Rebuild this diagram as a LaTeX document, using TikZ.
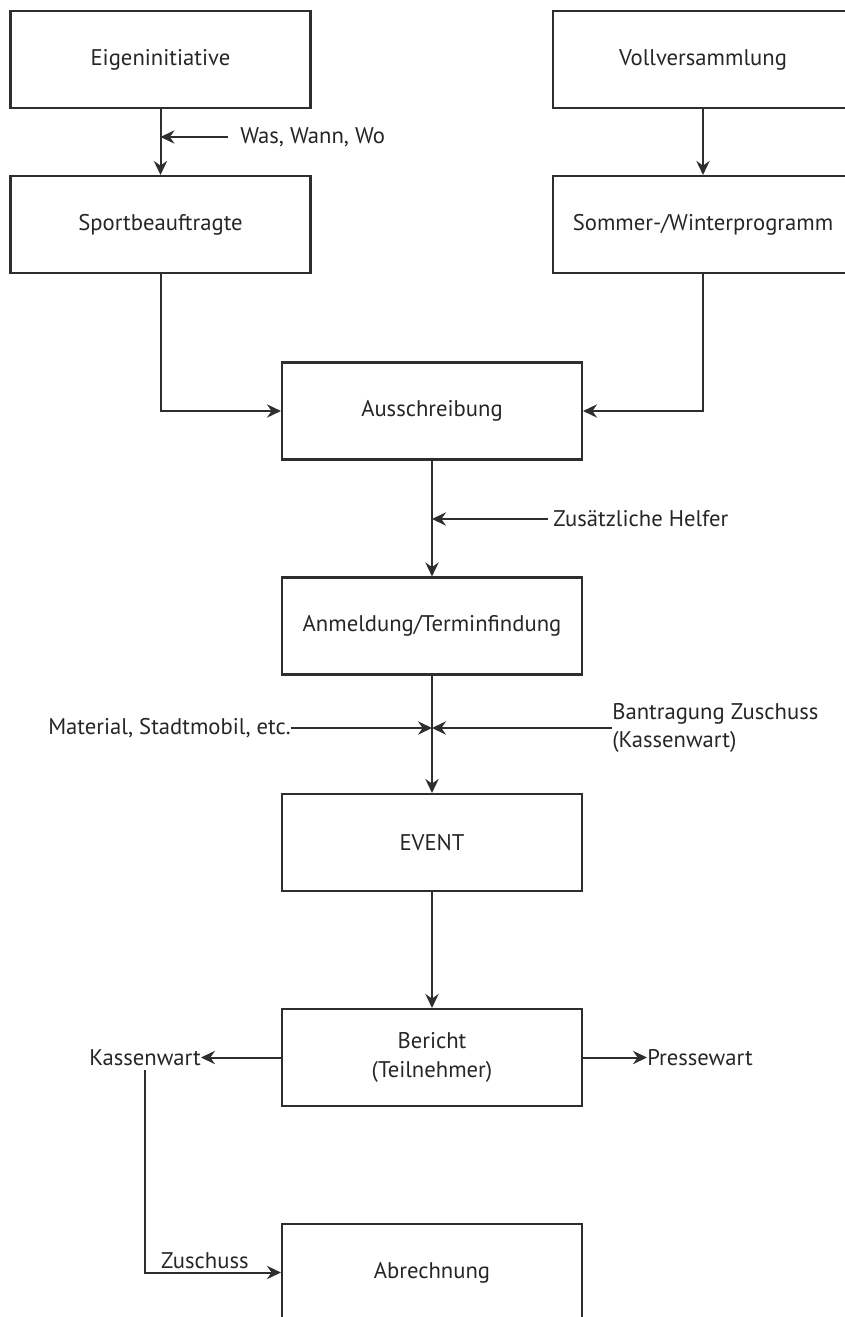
\documentclass[tikz,border=0pt]{standalone}
\usepackage{fontspec}
\setmainfont{PT Sans}
\usetikzlibrary{arrows.meta}
\definecolor{linie}{HTML}{2E2E2E}
\definecolor{schrift}{HTML}{262626}
\tikzset{
  every node/.style={font=\fontsize{17}{21.5}\selectfont, text=schrift},
  kasten/.style={draw=linie, line width=1.6pt, minimum width=225pt, minimum height=72.75pt, inner sep=0pt, align=center},
  notiz/.style={inner sep=0pt},
  pfeil/.style={draw=linie, line width=1.5pt, -{Stealth[length=10.5pt,width=10pt,inset=3.5pt]}}
}

\begin{document}
\begin{tikzpicture}[x=0.75pt, y=-0.75pt]
%%%%% START %%%%%
\useasboundingbox (0,0) rectangle (845,1317);

% linke Spalte
\node[kasten] (eigen) at (160.5,59.5) {Eigeninitiative};
\node[kasten] (sport) at (160.5,224.5) {Sportbeauftragte};

% rechte Spalte
\node[kasten] (voll) at (703,59.5) {Vollversammlung};
\node[kasten] (programm) at (703,224.5) {Sommer-/Winterprogramm};

% Mitte
\node[kasten] (aus) at (432,411) {Ausschreibung};
\node[kasten] (anmeldung) at (432,626) {Anmeldung/Terminfindung};
\node[kasten] (event) at (432,842.5) {EVENT};
\node[kasten] (bericht) at (432,1057.5) {Bericht\\(Teilnehmer)};
\node[kasten] (abrechnung) at (432,1272.5) {Abrechnung};

% Beschriftungen
\node[notiz, anchor=west] (www) at (240,137) {Was, Wann, Wo};
\node[notiz, anchor=west] (helfer) at (553,519) {Zusätzliche Helfer};
\node[notiz, anchor=east] (material) at (291,728) {Material, Stadtmobil, etc.};
\node[notiz, anchor=west, align=left] (antrag) at (612,728) {Bantragung Zuschuss\\(Kassenwart)};
\node[notiz, anchor=east] (kasse) at (201,1057.5) {Kassenwart};
\node[notiz, anchor=west] (presse) at (647,1057.5) {Pressewart};

% Pfeile
\draw[pfeil] (eigen) -- (sport);
\draw[pfeil, shorten <=9pt] (www.west) -- (www.west -| eigen.south);
\draw[pfeil] (voll) -- (programm);
\draw[pfeil] (sport.south) |- (aus.west);
\draw[pfeil] (programm.south) |- (aus.east);
\draw[pfeil] (aus) -- (anmeldung);
\draw[pfeil, shorten <=4pt] (helfer.west) -- (helfer.west -| aus.south);
\draw[pfeil] (anmeldung) -- (event);
\draw[pfeil] (material.east) -- (material.east -| anmeldung.south);
\draw[pfeil] (antrag.west) -- (antrag.west -| anmeldung.south);
\draw[pfeil] (event) -- (bericht);
\draw[pfeil] (bericht.west) -- (kasse.east);
\draw[pfeil] (bericht.east) -- (presse.west);
\draw[pfeil, shorten <=3pt] (kasse.south) |- node[notiz, above, pos=0.72, yshift=2pt] {Zuschuss} (abrechnung.west);
%%%%% END %%%%%
\end{tikzpicture}
\end{document}
